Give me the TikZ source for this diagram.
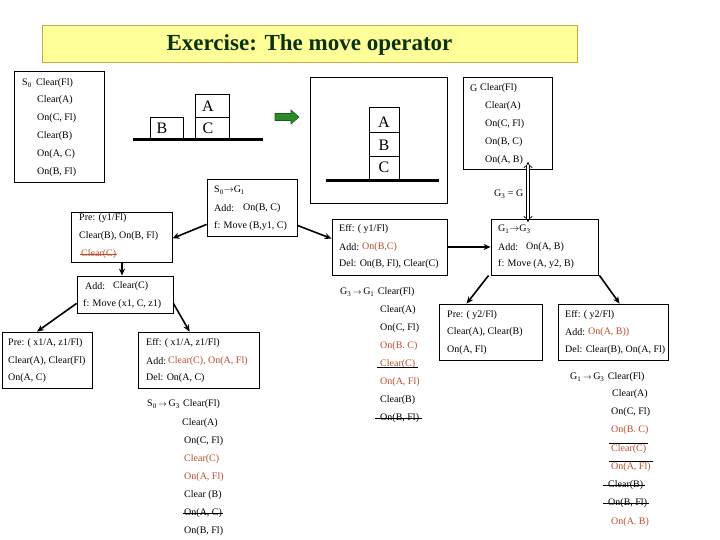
\documentclass[tikz,border=0pt]{standalone}
\usepackage{fontspec}
\setmainfont{Liberation Serif}
\usetikzlibrary{arrows.meta,calc,fit}
\definecolor{redtxt}{RGB}{190,75,45}
\definecolor{titlefill}{RGB}{255,255,153}
\definecolor{titledraw}{RGB}{200,170,70}
\definecolor{titletext}{RGB}{10,50,10}
\definecolor{arrgreen}{RGB}{40,140,40}
\definecolor{arrgreend}{RGB}{25,90,25}
\newcommand{\toarr}{$\rightarrow$}
\newcommand{\smarr}{{\fontsize{8}{9}\selectfont$\rightarrow$}}
\begin{document}
\begin{tikzpicture}[x=1pt,y=-1pt,
  txt/.style={anchor=west, inner sep=0pt, font=\fontsize{10}{12}\selectfont},
  rtxt/.style={txt, text=redtxt},
  boxst/.style={draw, line width=0.8pt, inner sep=0pt},
  blk/.style={draw, line width=0.8pt, inner sep=0pt},
  blklab/.style={inner sep=0pt, font=\fontsize{16}{18}\selectfont},
  conn/.style={line width=1.6pt, -{Stealth[length=7pt,width=6pt]}},
  strike/.style={line width=0.7pt}]
\useasboundingbox (0,0) rectangle (720,540);

% title
\node[fit={(42,26) (577,63)}, inner sep=0pt, fill=titlefill, draw=titledraw, line width=1pt] (title) {};
\node[font=\fontsize{23}{26}\selectfont\bfseries, text=titletext] (titletxt) at (title.center) {Exercise: The move operator};

% S0 box
\node[boxst, fit={(14,71) (104,182)}] (s0box) {};
\node[txt] (s0a) at (22,83) {S\textsubscript{0}};
\node[txt] (s0b) at (36,83) {Clear(Fl)};
\node[txt] (s0c) at (37,100) {Clear(A)};
\node[txt] (s0d) at (37,118) {On(C, Fl)};
\node[txt] (s0e) at (37,136) {Clear(B)};
\node[txt] (s0f) at (37,154) {On(A, C)};
\node[txt] (s0g) at (37,172) {On(B, Fl)};

% initial blocks
\node[blk, fit={(150,117) (183,138)}] (iB) {};
\node[blklab] (iBl) at (162,128) {B};
\node[blk, fit={(195,94) (229,117)}] (iA) {};
\node[blklab] (iAl) at (208,106) {A};
\node[blk, fit={(195,117) (229,138)}] (iC) {};
\node[blklab] (iCl) at (208,128) {C};
\draw[line width=3pt] (133,139.5) -- (263,139.5);

% green arrow
\filldraw[fill=arrgreen, draw=arrgreend, line width=0.6pt]
  (275,113.5) -- (291,113.5) -- (291,110) -- (299,117) -- (291,124) -- (291,120.5) -- (275,120.5) -- cycle;

% goal picture
\node[boxst, fit={(310,77) (447,203)}] (goalpic) {};
\node[blk, fit={(369,107) (399,132)}] (gA) {};
\node[blklab] (gAl) at (384,122) {A};
\node[blk, fit={(369,132) (399,156)}] (gB) {};
\node[blklab] (gBl) at (384,145) {B};
\node[blk, fit={(369,156) (399,179)}] (gC) {};
\node[blklab] (gCl) at (384,167) {C};
\draw[line width=3pt] (326,180.5) -- (439,180.5);

% G box
\node[boxst, fit={(463,77) (552,169)}] (gbox) {};
\node[txt] (ga) at (470,88) {G};
\node[txt] (gb) at (480,88) {Clear(Fl)};
\node[txt] (gc) at (485,106) {Clear(A)};
\node[txt] (gd) at (485,124) {On(C, Fl)};
\node[txt] (ge) at (485,142) {On(B, C)};
\node[txt] (gf) at (485,160) {On(A, B)};

% S0 -> G1 box
\node[boxst, fit={(207,179) (297,236)}] (s0g1) {};
\node[txt] (s0g1a) at (214,190) {S\textsubscript{0}\toarr G\textsubscript{1}};
\node[txt] (s0g1b) at (214,208) {Add:};
\node[txt] (s0g1c) at (243,208) {On(B, C)};
\node[txt] (s0g1d) at (214,226) {f: Move (B,y1, C)};

% Pre y1 box
\node[boxst, fit={(71,212) (172,262)}] (pre1) {};
\node[txt] (pre1a) at (79,218) {Pre: (y1/Fl)};
\node[txt] (pre1b) at (79,236) {Clear(B), On(B, Fl)};
\node[rtxt] (pre1c) at (81,254) {Clear(C)};
\draw[strike, redtxt] ([xshift=-1pt]pre1c.west) -- ([xshift=1pt]pre1c.east);

% Add Clear(C) box
\node[boxst, fit={(77,276) (173,313)}] (add1) {};
\node[txt] (add1a) at (85,286) {Add:};
\node[txt] (add1b) at (113,286) {Clear(C)};
\node[txt] (add1c) at (83,304) {f: Move (x1, C, z1)};

% Pre x1 box
\node[boxst, fit={(2,332) (92,388)}] (pre2) {};
\node[txt] (pre2a) at (8,343) {Pre: ( x1/A, z1/Fl)};
\node[txt] (pre2b) at (8,361) {Clear(A), Clear(Fl)};
\node[txt] (pre2c) at (8,378) {On(A, C)};

% Eff x1 box
\node[boxst, fit={(138,332) (259,388)}] (eff2) {};
\node[txt] (eff2a) at (146,343) {Eff: ( x1/A, z1/Fl)};
\node[txt] (eff2b) at (146,361) {Add:};
\node[rtxt] (eff2c) at (168,361) {Clear(C), On(A, Fl)};
\node[txt] (eff2d) at (146,378) {Del: On(A, C)};

% S0 -> G3 list
\node[txt] (l1a) at (147,404) {S\textsubscript{0}\,\smarr\,G\textsubscript{3}};
\node[txt] (l1b) at ([xshift=3pt]l1a.east) {Clear(Fl)};
\node[txt] (l1c) at (182,423) {Clear(A)};
\node[txt] (l1d) at (184,441) {On(C, Fl)};
\node[rtxt] (l1e) at (184,459) {Clear(C)};
\node[rtxt] (l1f) at (184,477) {On(A, Fl)};
\node[txt] (l1g) at (184,495) {Clear (B)};
\node[txt] (l1h) at (184,513) {On(A, C)};
\node[txt] (l1i) at (184,531) {On(B, Fl)};
\draw[strike] ([xshift=-1pt]l1h.west) -- ([xshift=1pt]l1h.east);

% Eff y1 box
\node[boxst, fit={(332,219) (447,275)}] (eff1) {};
\node[txt] (eff1a) at (339,229) {Eff: ( y1/Fl)};
\node[txt] (eff1b) at (339,247) {Add:};
\node[rtxt] (eff1c) at (362,247) {On(B,C)};
\node[txt] (eff1d) at (339,264) {Del: On(B, Fl), Clear(C)};

% G1 -> G3 box
\node[boxst, fit={(491,219) (598,275)}] (g1g3) {};
\node[txt] (g1g3a) at (498,229) {G\textsubscript{1}\toarr G\textsubscript{3}};
\node[txt] (g1g3b) at (498,247) {Add:};
\node[txt] (g1g3c) at (526,247) {On(A, B)};
\node[txt] (g1g3d) at (498,264) {f: Move (A, y2, B)};

% G3 = G
\node[txt] (g3eq) at (494,194) {G\textsubscript{3} = G};
\coordinate (dtop) at (528,162);
\coordinate (dbot) at (528,222);
\draw[double distance=2.4pt, line width=0.7pt, {Implies}-{Implies}] (dtop) -- (dbot);

% G3 -> G1 list
\node[txt] (l2a) at (340,292) {G\textsubscript{3}\,\smarr\,G\textsubscript{1}};
\node[txt] (l2b) at ([xshift=3pt]l2a.east) {Clear(Fl)};
\node[txt] (l2c) at (380,310) {Clear(A)};
\node[txt] (l2d) at (380,328) {On(C, Fl)};
\node[rtxt] (l2e) at (380,346) {On(B. C)};
\node[rtxt] (l2f) at (380,364) {Clear(C)};
\node[rtxt] (l2g) at (380,382) {On(A, Fl)};
\node[txt] (l2h) at (380,400) {Clear(B)};
\node[txt] (l2i) at (380,418) {On(B, Fl)};
\draw[strike] ([xshift=-3pt,yshift=-3pt]l2f.west) -- ([xshift=3pt,yshift=-3pt]l2f.east);
\draw[strike] ([xshift=-5pt]l2i.west) -- ([xshift=3pt]l2i.east);

% Pre y2 box
\node[boxst, fit={(439,304) (542,360)}] (pre3) {};
\node[txt] (pre3a) at (447,315) {Pre: ( y2/Fl)};
\node[txt] (pre3b) at (447,332) {Clear(A), Clear(B)};
\node[txt] (pre3c) at (447,350) {On(A, Fl)};

% Eff y2 box
\node[boxst, fit={(558,304) (668,360)}] (eff3) {};
\node[txt] (eff3a) at (565,315) {Eff: ( y2/Fl)};
\node[txt] (eff3b) at (565,332) {Add:};
\node[rtxt] (eff3c) at (588,332) {On(A, B))};
\node[txt] (eff3d) at (565,350) {Del: Clear(B), On(A, Fl)};

% G1 -> G3 list
\node[txt] (l3a) at (570,377) {G\textsubscript{1}\,\smarr\,G\textsubscript{3}};
\node[txt] (l3b) at ([xshift=3pt]l3a.east) {Clear(Fl)};
\node[txt] (l3c) at (612,394) {Clear(A)};
\node[txt] (l3d) at (611,412) {On(C, Fl)};
\node[rtxt] (l3e) at (611,430) {On(B. C)};
\node[rtxt] (l3f) at (611,449) {Clear(C)};
\node[rtxt] (l3g) at (611,467) {On(A, Fl)};
\node[txt] (l3h) at (608,485) {Clear(B)};
\node[txt] (l3i) at (608,503) {On(B, Fl)};
\node[rtxt] (l3j) at (611,522) {On(A. B)};
\draw[strike] ([xshift=-2pt,yshift=1pt]l3f.north west) -- ([xshift=2pt,yshift=1pt]l3f.north east);
\draw[strike] ([xshift=-2pt,yshift=1pt]l3g.north west) -- ([xshift=2pt,yshift=1pt]l3g.north east);
\draw[strike] ([xshift=-5pt]l3h.west) -- ([xshift=2pt]l3h.east);
\draw[strike] ([xshift=-5pt]l3i.west) -- ([xshift=2pt]l3i.east);

% connectors
\draw[conn] ([yshift=12pt]s0g1.south west) -- ([yshift=24pt]pre1.south east);
\draw[conn] ([yshift=11pt]s0g1.south east) -- ([yshift=-20pt]eff1.north west);
\draw[conn] ([xshift=0.5pt]pre1.south) -- ([xshift=0.5pt]pre1.south |- add1.north);
\draw[conn] ([yshift=10pt]add1.south west) -- ([xshift=-10pt]pre2.north);
\draw[conn] ([yshift=10pt]add1.south east) -- ([xshift=52pt]eff2.north west);
\draw[conn] (eff1.east) -- (g1g3.west);
\draw[conn] ([xshift=-2pt]g1g3.south west) -- ([xshift=28pt]pre3.north west);
\draw[conn] ([xshift=1pt]g1g3.south east) -- ([xshift=62pt]eff3.north west);
\end{tikzpicture}
\end{document}
